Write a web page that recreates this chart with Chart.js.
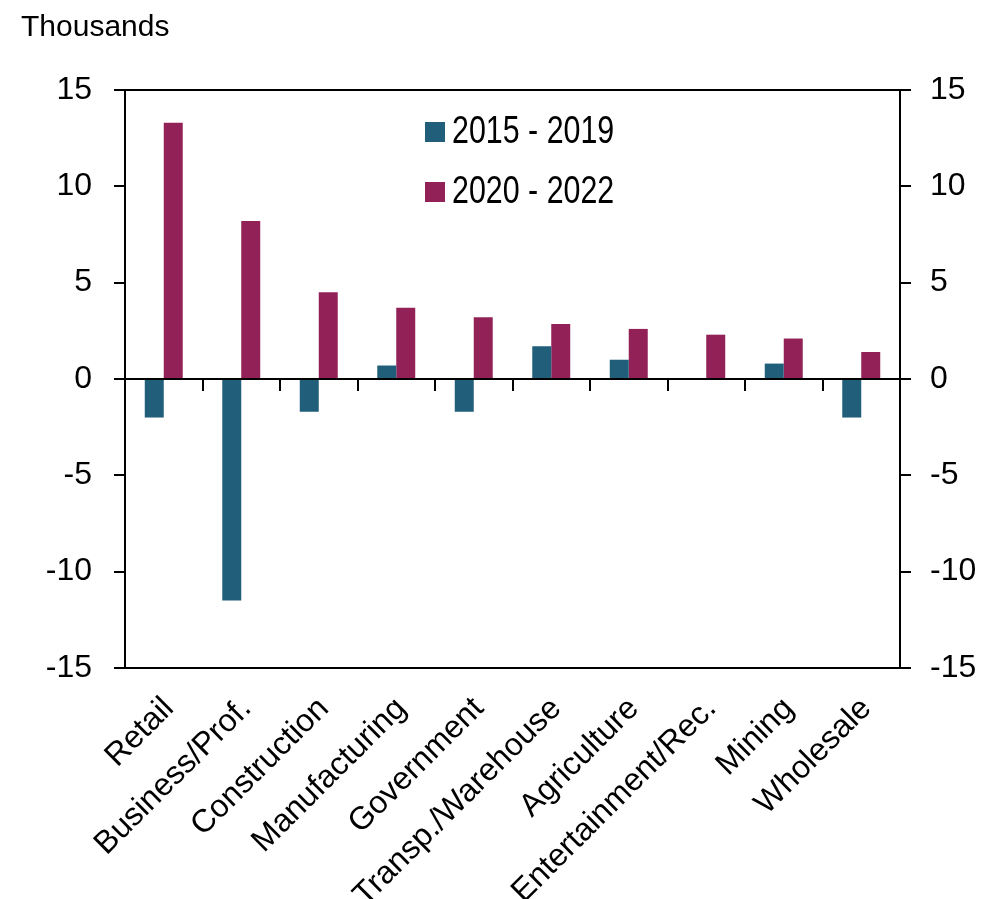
<!DOCTYPE html>
<html lang="en">
<head>
    <meta charset="UTF-8">
    <title>Employment change by sector</title>
    <script src="https://cdn.jsdelivr.net/npm/chart.js"></script>
    <style>
        html, body { margin: 0; padding: 0; background: #fff; }
        #wrap { width: 981px; height: 899px; }
    </style>
</head>
<body>
<div id="wrap"><canvas id="sectorChart" width="981" height="899"></canvas></div>
<script>
const categories = ['Retail', 'Business/Prof.', 'Construction', 'Manufacturing', 'Government',
    'Transp./Warehouse', 'Agriculture', 'Entertainment/Rec.', 'Mining', 'Wholesale'];
const series2015 = [-2.0, -11.5, -1.7, 0.7, -1.7, 1.7, 1.0, 0, 0.8, -2.0];
const series2020 = [13.3, 8.2, 4.5, 3.7, 3.2, 2.85, 2.6, 2.3, 2.1, 1.4];
const seriesNames = ['2015 - 2019', '2020 - 2022'];
const yTicks = [-15, -10, -5, 0, 5, 10, 15];

const FONT = '"Liberation Sans", Arial, sans-serif';
const BLUE = '#215e79';
const RED = '#922157';

// top border of the plot + legend inside the plot
const framePlugin = {
    id: 'frame',
    afterDatasetsDraw(chart) {
        const ctx = chart.ctx, a = chart.chartArea;
        ctx.save();
        ctx.strokeStyle = '#000';
        ctx.lineWidth = 2;
        ctx.beginPath();
        ctx.moveTo(a.left, a.top);
        ctx.lineTo(a.right, a.top);
        ctx.stroke();

        ctx.textBaseline = 'middle';
        chart.data.datasets.forEach((ds, i) => {
            const x = a.left + 300, y = a.top + 42 + i * 60;
            ctx.fillStyle = ds.backgroundColor;
            ctx.fillRect(x, y - 10, 20, 20);
            // legend text in the reference is a condensed face
            ctx.save();
            ctx.translate(x + 27, y + 1);
            ctx.scale(0.8, 1);
            ctx.font = '38px ' + FONT;
            ctx.fillStyle = '#000';
            ctx.fillText(ds.label, 0, 0);
            ctx.restore();
        });
        ctx.restore();
    }
};

const axisLine = { display: true, color: '#000', width: 2 };
const yTickGrid = { drawOnChartArea: false, drawTicks: true, tickLength: 11, color: '#000', lineWidth: 2 };

new Chart(document.getElementById('sectorChart').getContext('2d'), {
    type: 'bar',
    data: {
        labels: categories,
        datasets: [
            { label: seriesNames[0], data: series2015, backgroundColor: BLUE,
              categoryPercentage: 0.49, barPercentage: 1.0 },
            { label: seriesNames[1], data: series2020, backgroundColor: RED,
              categoryPercentage: 0.49, barPercentage: 1.0 }
        ]
    },
    options: {
        responsive: false,
        animation: false,
        layout: { padding: { left: 21, right: 0, top: 0, bottom: 0 } },
        plugins: {
            legend: { display: false },
            tooltip: { enabled: false },
            title: {
                display: true,
                text: 'Thousands',
                align: 'start',
                color: '#000',
                font: { family: FONT, size: 30, weight: 'normal' },
                padding: { top: 10, bottom: 44 }
            }
        },
        scales: {
            x: {
                type: 'category',
                position: 'bottom',
                offset: true,
                grid: { display: true, drawOnChartArea: false, drawTicks: false, offset: true },
                border: axisLine,
                ticks: {
                    color: '#000',
                    minRotation: 45,
                    maxRotation: 45,
                    autoSkip: false,
                    padding: 22,
                    labelOffset: 5,
                    font: { family: FONT, size: 32 }
                },
                afterFit: s => { s.height = 231; }
            },
            xZero: {
                type: 'category',
                labels: categories,
                position: { y: 0 },
                offset: true,
                grid: { display: true, offset: true, drawOnChartArea: false, drawTicks: true,
                        tickLength: 11, color: '#000', lineWidth: 2 },
                border: axisLine,
                ticks: { display: false }
            },
            y: {
                position: 'left',
                min: -15,
                max: 15,
                afterBuildTicks: s => { s.ticks = yTicks.map(v => ({ value: v })); },
                grid: yTickGrid,
                border: axisLine,
                ticks: { color: '#000', padding: 22, font: { family: FONT, size: 32 } },
                afterFit: s => { s.width = 104; }
            },
            y2: {
                position: 'right',
                min: -15,
                max: 15,
                afterBuildTicks: s => { s.ticks = yTicks.map(v => ({ value: v })); },
                grid: yTickGrid,
                border: axisLine,
                ticks: { color: '#000', padding: 19, font: { family: FONT, size: 32 } },
                afterFit: s => { s.width = 81; }
            }
        }
    },
    plugins: [framePlugin]
});
</script>
</body>
</html>
